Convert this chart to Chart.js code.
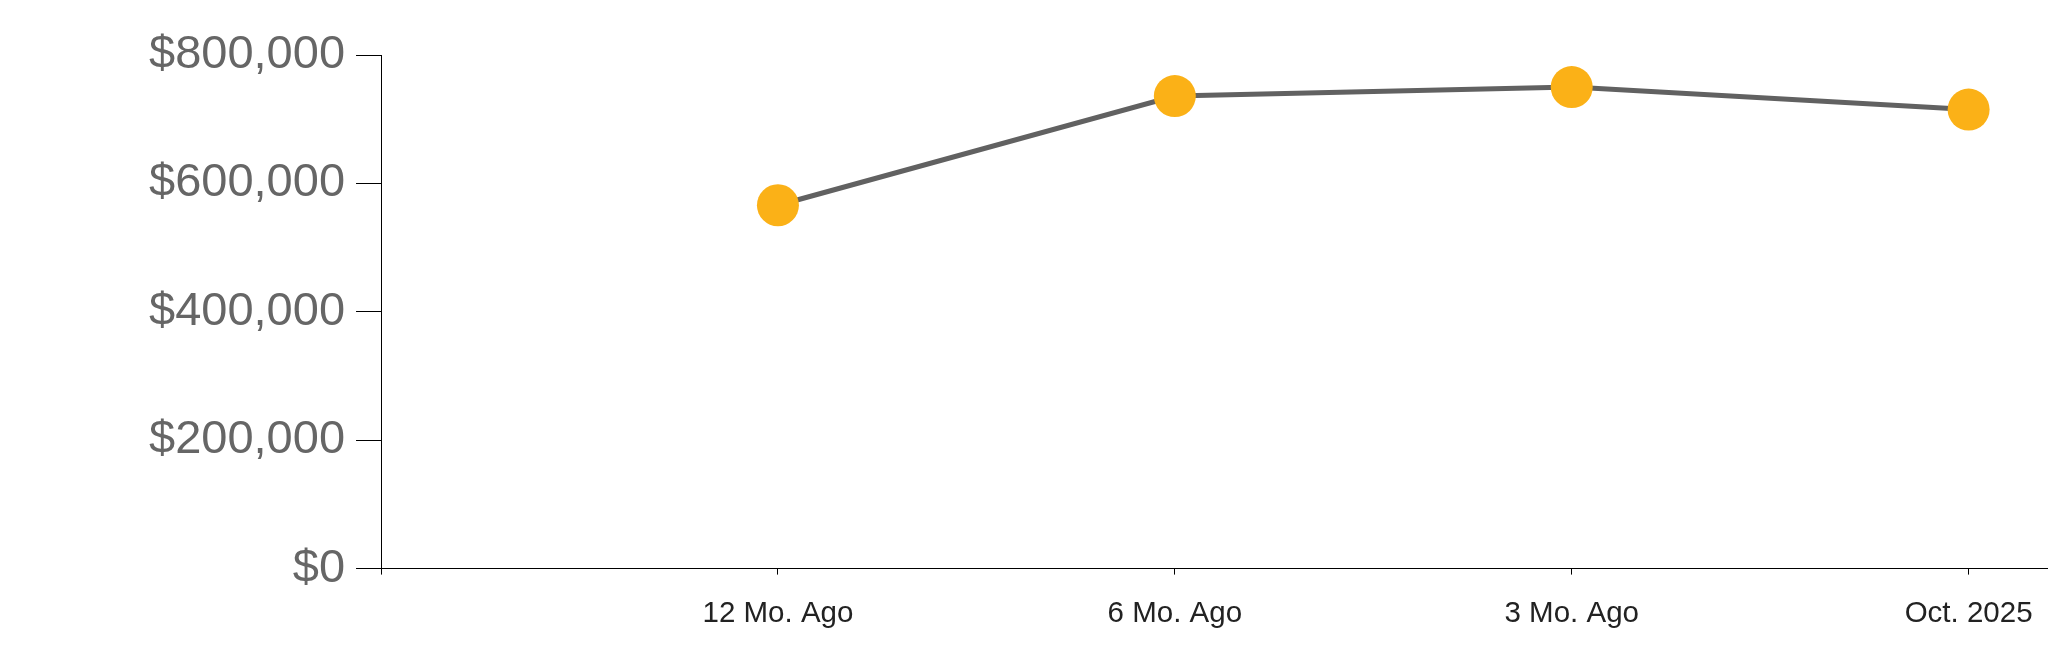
<!DOCTYPE html>
<html>
<head>
<meta charset="utf-8">
<title>Median Price</title>
<script src="https://cdn.jsdelivr.net/npm/chart.js@4/dist/chart.umd.min.js"></script>
<style>
  html, body { margin: 0; padding: 0; background: #fff; }
  #wrap { width: 2048px; height: 663px; position: relative; }
</style>
</head>
<body>
<div id="wrap"><canvas id="priceChart"></canvas></div>
<script>
// data
const periods = ["12 Mo. Ago", "6 Mo. Ago", "3 Mo. Ago", "Oct. 2025"];
const prices = [566000, 736000, 750000, 715000];
const yTicks = [0, 200000, 400000, 600000, 800000];

// slot 0 is an empty spot before the first period
const points = periods.map((p, i) => ({ x: i + 1, y: prices[i] }));

const money = (v) => "$" + Number(v).toLocaleString("en-US");

new Chart(document.getElementById("priceChart"), {
  type: "line",
  data: {
    datasets: [
      {
        data: points,
        borderColor: "#616161",
        borderWidth: 5,
        tension: 0,
        pointRadius: 21,
        pointHoverRadius: 21,
        pointBackgroundColor: "#FBB117",
        pointBorderColor: "#FBB117",
        pointBorderWidth: 0,
        clip: false,
      },
    ],
  },
  options: {
    responsive: true,
    maintainAspectRatio: false,
    animation: false,
    layout: { autoPadding: false, padding: { top: 55, left: 138, right: 0, bottom: 9 } },
    plugins: { legend: { display: false }, tooltip: { enabled: false } },
    scales: {
      x: {
        type: "linear",
        min: 0,
        max: 4.2,
        afterBuildTicks: (axis) => {
          axis.ticks = [0, 1, 2, 3, 4].map((v) => ({ value: v }));
        },
        // let the axis run to the right edge like the original
        afterFit: (axis) => {
          axis.paddingLeft = 0;
          axis.paddingRight = 0;
        },
        grid: { drawOnChartArea: false, drawTicks: true, tickLength: 6, tickColor: "#000", tickWidth: 1 },
        border: { display: true, color: "#000", width: 1 },
        ticks: {
          padding: 22,
          color: "#222",
          maxRotation: 0,
          autoSkip: false,
          font: { family: "'Liberation Sans', Arial, sans-serif", size: 29.5 },
          callback: (v) => periods[v - 1] || "",
        },
      },
      y: {
        min: 0,
        max: 800000,
        afterBuildTicks: (axis) => {
          axis.ticks = yTicks.map((v) => ({ value: v }));
        },
        grid: { drawOnChartArea: false, drawTicks: true, tickLength: 25, tickColor: "#000", tickWidth: 1 },
        border: { display: true, color: "#000", width: 1 },
        ticks: {
          padding: 11,
          color: "#666",
          font: { family: "'Liberation Sans', Arial, sans-serif", size: 47 },
          callback: (v) => money(v),
        },
      },
    },
  },
});
</script>
</body>
</html>
